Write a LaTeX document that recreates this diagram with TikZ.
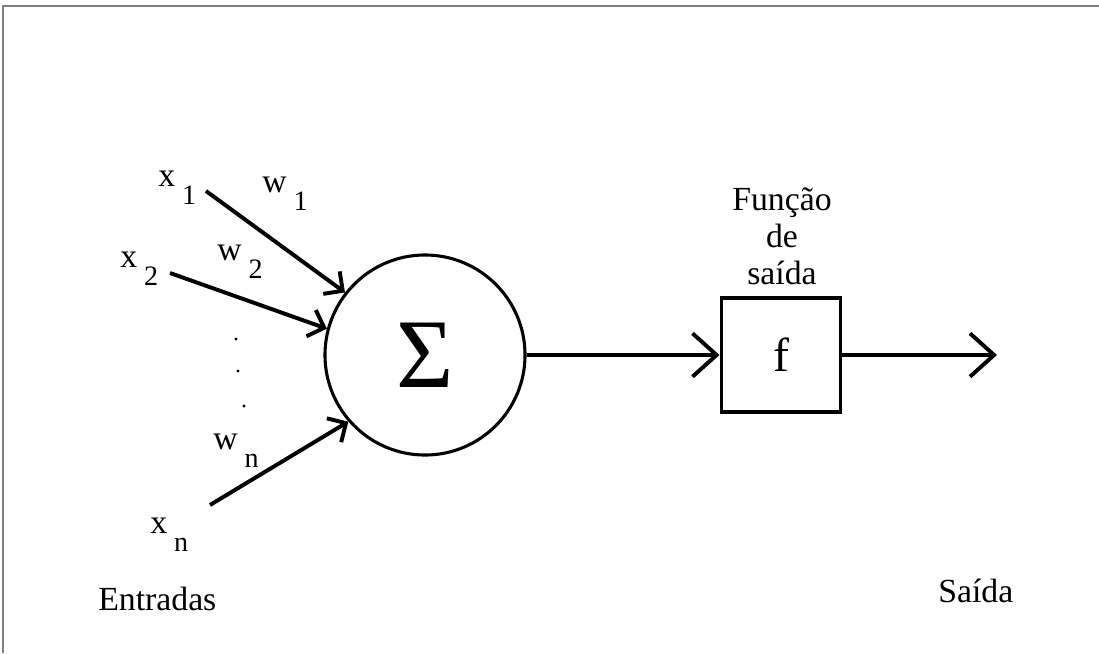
\documentclass[tikz,border=0pt]{standalone}
\usepackage{fontspec}
\setmainfont{Liberation Serif}
\usepackage{tikz}
\usetikzlibrary{arrows.meta}
\definecolor{NRFrame}{HTML}{808080}
\newcommand{\ind}[2]{#1\hspace{5pt}\raisebox{-13pt}{\fontsize{20}{20}\selectfont #2}}

\begin{document}
\begin{tikzpicture}[x=0.025cm,y=-0.025cm,
  rotulo/.style={anchor=base west,inner sep=0pt,font=\fontsize{24}{29}\selectfont},
  entrada/.style={line width=2.8pt,-{Straight Barb[angle=90:14pt]}},
  saida/.style={line width=2.8pt,-{Straight Barb[angle=84:23pt]}}]
\path[use as bounding box] (0,0) rectangle (1099,653);
\draw[NRFrame,line width=1.2pt] (3,653) -- (3,6) -- (1099,6);
\node[draw,circle,line width=2.2pt,minimum size=5cm,inner sep=0pt,font=\fontsize{70}{70}\selectfont] (soma) at (425,355) {Σ};
\node[draw,rectangle,line width=2.8pt,minimum width=2.975cm,minimum height=2.85cm,inner sep=0pt,font=\fontsize{34}{34}\selectfont] (func) at (781,355) {f};
\node[align=center,anchor=north,inner sep=0pt,font=\fontsize{24}{26.5}\selectfont] (titf) at (782,187) {Função\\de\\saída};
\node[rotulo] (x1) at (158,186) {\ind{x}{1}};
\node[rotulo] (x2) at (120,267) {\ind{x}{2}};
\node[rotulo] (xn) at (150,533) {\ind{x}{n}};
\node[rotulo] (w1) at (262,192) {\ind{w}{1}};
\node[rotulo] (w2) at (217,260) {\ind{w}{2}};
\node[rotulo] (wn) at (213,449) {\ind{w}{n}};
\coordinate (e1) at (206,191);
\coordinate (e2) at (170,273);
\coordinate (en) at (210,505);
\draw[entrada] (e1) -- (soma.142);
\draw[entrada] (e2) -- (soma.165);
\draw[entrada] (en) -- (soma.221);
\fill (236,339) circle[radius=1.2pt];
\fill (238,371) circle[radius=1.2pt];
\fill (244,406) circle[radius=1.2pt];
\draw[saida] (soma.east) -- (soma.east -| func.west);
\coordinate (fim) at (997,355);
\draw[saida] (func.east) -- (fim);
\node[rotulo] (entr) at (98,610) {Entradas};
\node[rotulo] (said) at (938,602) {Saída};
\end{tikzpicture}
\end{document}
